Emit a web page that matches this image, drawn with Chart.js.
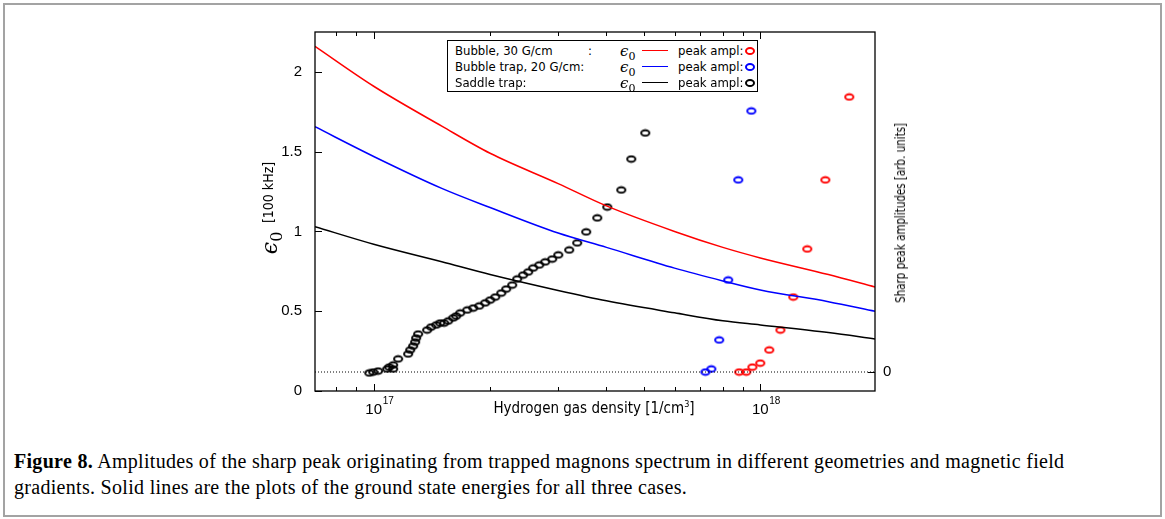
<!DOCTYPE html>
<html>
<head>
<meta charset="utf-8">
<script src="https://cdn.jsdelivr.net/npm/chart.js@4.4.0/dist/chart.umd.min.js"></script>
<style>
body{margin:0;width:1165px;height:519px;overflow:hidden;position:relative;background:#fff;
  font-family:'Liberation Sans Narrow','DejaVu Sans Condensed','Liberation Sans',sans-serif;color:#000}
#frame{position:absolute;left:3px;top:3px;width:1159px;height:514px;border:2px solid #a3a3a3;box-sizing:border-box}
#plot{position:absolute;left:0;top:0}
.rot{position:absolute;transform:rotate(-90deg);text-align:center;white-space:nowrap}
.eps{font-family:'DejaVu Serif','Liberation Serif',serif;font-style:italic}
#legend{position:absolute;left:447px;top:40px;width:311px;height:52px;border:1px solid #000;background:#fff;box-sizing:border-box;font-size:13px}
#legend .row{position:absolute;left:0;height:16px;line-height:16px;width:100%}
#legend span{position:absolute;top:0}
#legend .ln{top:7px;width:26px;height:0;border-top:1.6px solid}
#legend .mk{top:4px;width:6px;height:4px;border:2px solid;border-radius:50%}
#xtitle{position:absolute;left:444px;top:399px;width:300px;text-align:center;font-size:15px}
#caption{position:absolute;left:14px;top:448px;font-family:'Liberation Serif',serif;font-size:20px;letter-spacing:0.3px;line-height:26px;white-space:nowrap}
</style>
</head>
<body>
<div id="frame"></div>
<canvas id="plot" width="1165" height="420"></canvas>

<div class="rot" style="left:168px;top:193px;width:200px;height:30px;line-height:30px">
  <span class="eps" style="font-size:22px">ϵ<sub style="font-size:16px;font-style:normal">0</sub></span>
  <span style="font-size:14px;vertical-align:4px">&nbsp;[100 kHz]</span>
</div>
<div class="rot" style="left:780px;top:203px;width:240px;height:20px;line-height:20px;font-size:14px;transform:rotate(-90deg) scaleX(0.82)">Sharp peak amplitudes [arb. units]</div>
<div id="xtitle">Hydrogen gas density [1/cm<sup style="font-size:9px">3</sup>]</div>

<div id="legend">
  <div class="row" style="top:2px">
    <span style="left:7px">Bubble, 30 G/cm</span><span style="left:140px">:</span>
    <span class="eps" style="left:172px;font-size:15px">ϵ<sub style="font-size:11px;font-style:normal">0</sub></span>
    <span class="ln" style="left:194px;color:#f00"></span>
    <span style="left:230px">peak ampl:</span><span class="mk" style="left:297px;color:#f00"></span>
  </div>
  <div class="row" style="top:18px">
    <span style="left:7px">Bubble trap, 20 G/cm:</span>
    <span class="eps" style="left:172px;font-size:15px">ϵ<sub style="font-size:11px;font-style:normal">0</sub></span>
    <span class="ln" style="left:194px;color:#00f"></span>
    <span style="left:230px">peak ampl:</span><span class="mk" style="left:297px;color:#00f"></span>
  </div>
  <div class="row" style="top:34px">
    <span style="left:7px">Saddle trap:</span>
    <span class="eps" style="left:172px;font-size:15px">ϵ<sub style="font-size:11px;font-style:normal">0</sub></span>
    <span class="ln" style="left:194px;color:#000"></span>
    <span style="left:230px">peak ampl:</span><span class="mk" style="left:297px;color:#000"></span>
  </div>
</div>

<div id="caption"><b>Figure 8.</b> Amplitudes of the sharp peak originating from trapped magnons spectrum in different geometries and magnetic field<br>gradients. Solid lines are the plots of the ground state energies for all three cases.</div>

<script>
// ground state energy eps0 [100 kHz] vs hydrogen density [1/cm3]
const densGrid = [7.05e16, 1e17, 1.5e17, 2e17, 3e17, 4e17, 6e17, 8e17, 1e18, 1.5e18, 1.98e18];
const eps0Bubble30 = [2.16, 1.91, 1.66, 1.49, 1.30, 1.16, 1.00, 0.90, 0.834, 0.73, 0.652];
const eps0Bubble20 = [1.656, 1.47, 1.27, 1.15, 0.99, 0.90, 0.77, 0.69, 0.633, 0.56, 0.50];
const eps0Saddle = [1.03, 0.92, 0.81, 0.73, 0.63, 0.565, 0.49, 0.44, 0.414, 0.366, 0.326];

// sharp peak amplitudes [arb. units], density in units of 1e17 /cm3
const saddleDens = [0.974, 0.997, 1.027, 1.084, 1.097, 1.123, 1.123, 1.157, 1.228, 1.243, 1.265, 1.280,
  1.288, 1.303, 1.375, 1.408, 1.451, 1.486, 1.522, 1.559, 1.606, 1.635, 1.674, 1.746, 1.809, 1.875,
  1.943, 2.002, 2.063, 2.138, 2.202, 2.282, 2.351, 2.436, 2.510, 2.586, 2.681, 2.778, 2.896, 3.002,
  3.204, 3.361, 3.546, 3.787, 4.019, 4.370, 4.638, 5.041];
const saddleAmpl = [-0.006, 0, 0.006, 0.019, 0.031, 0.019, 0.044, 0.082, 0.113, 0.138, 0.163, 0.188,
  0.213, 0.238, 0.263, 0.282, 0.295, 0.307, 0.307, 0.320, 0.339, 0.351, 0.370, 0.389, 0.401, 0.414,
  0.433, 0.451, 0.470, 0.495, 0.520, 0.545, 0.583, 0.608, 0.627, 0.652, 0.671, 0.690, 0.708, 0.734,
  0.765, 0.809, 0.878, 0.966, 1.034, 1.141, 1.335, 1.498];
const bubble20Dens = [7.21, 7.47, 7.83, 8.26, 8.77, 9.48];
const bubble20Ampl = [0, 0.019, 0.201, 0.577, 1.204, 1.636];
const bubble30Dens = [8.82, 9.20, 9.54, 10.0, 10.55, 11.27, 12.17, 13.23, 14.73, 16.99];
const bubble30Ampl = [0, 0, 0.031, 0.056, 0.138, 0.263, 0.470, 0.771, 1.204, 1.724];

// axes
const xMin = 7.05e16, xMax = 1.98e18;
const xDecades = [17, 18];
const yTicks = [0, 0.5, 1, 1.5, 2];
const yMax = 2.25;
const y2Ticks = [0];
const y2Offset = 0.119; // where amplitude 0 sits on the eps0 axis

function xy(xs, ys, scale) {
  return xs.map((v, i) => ({x: v * scale, y: ys[i]}));
}

function ellipseMarker(color) {
  const c = document.createElement('canvas');
  c.width = 12; c.height = 9;
  const g = c.getContext('2d');
  g.strokeStyle = color;
  g.lineWidth = 1.9;
  g.beginPath();
  g.ellipse(6, 4.5, 4.1, 2.7, 0, 0, Math.PI * 2);
  g.stroke();
  return c;
}

function curve(ys, color) {
  return {
    type: 'line', data: xy(densGrid, ys, 1), yAxisID: 'y',
    borderColor: color, borderWidth: 1.5, pointRadius: 0, fill: false,
    cubicInterpolationMode: 'monotone'
  };
}

function peaks(xs, ys, color) {
  return {
    type: 'scatter', data: xy(xs, ys, 1e17), yAxisID: 'y2',
    pointStyle: ellipseMarker(color), pointRadius: 5, showLine: false
  };
}

const boxTicks = {
  id: 'boxTicks',
  afterDatasetsDraw(chart) {
    const {ctx, chartArea: a, scales} = chart;
    const x = scales.x, y = scales.y, y2 = scales.y2;
    ctx.save();
    ctx.strokeStyle = '#000';
    ctx.lineWidth = 1.3;
    ctx.strokeRect(a.left, a.top, a.right - a.left, a.bottom - a.top);
    ctx.lineWidth = 1;
    ctx.beginPath();
    for (let d = 16; d <= 18; d++) {
      for (let m = 1; m <= 9; m++) {
        const v = m * Math.pow(10, d);
        if (v < x.min || v > x.max) continue;
        const px = Math.round(x.getPixelForValue(v)) + 0.5;
        const len = m === 1 ? 7 : 4;
        ctx.moveTo(px, a.bottom); ctx.lineTo(px, a.bottom - len);
        ctx.moveTo(px, a.top); ctx.lineTo(px, a.top + len);
      }
    }
    yTicks.forEach(v => {
      const py = Math.round(y.getPixelForValue(v)) + 0.5;
      ctx.moveTo(a.left, py); ctx.lineTo(a.left + 7, py);
    });
    y2Ticks.forEach(v => {
      const py = Math.round(y2.getPixelForValue(v)) + 0.5;
      ctx.moveTo(a.right, py); ctx.lineTo(a.right - 7, py);
    });
    ctx.stroke();

    ctx.fillStyle = '#000';
    ctx.textBaseline = 'alphabetic';
    xDecades.forEach(e => {
      const px = x.getPixelForValue(Math.pow(10, e));
      ctx.font = '15px "Liberation Sans"';
      ctx.textAlign = 'center';
      ctx.fillText('10', px, a.bottom + 23);
      ctx.font = '10px "Liberation Sans"';
      ctx.textAlign = 'left';
      ctx.fillText(String(e), px + 9, a.bottom + 13);
    });
    ctx.restore();
  }
};

const ctx = document.getElementById('plot').getContext('2d');
new Chart(ctx, {
  data: {
    datasets: [
      {
        type: 'line', data: [{x: xMin, y: 0}, {x: xMax, y: 0}], yAxisID: 'y2',
        borderColor: '#000', borderWidth: 1, borderDash: [1, 2], pointRadius: 0
      },
      curve(eps0Bubble30, '#ff0000'),
      curve(eps0Bubble20, '#0000ff'),
      curve(eps0Saddle, '#000000'),
      peaks(saddleDens, saddleAmpl, '#000000'),
      peaks(bubble20Dens, bubble20Ampl, '#0000ff'),
      peaks(bubble30Dens, bubble30Ampl, '#ff0000')
    ]
  },
  options: {
    responsive: false,
    animation: false,
    devicePixelRatio: 1,
    layout: {padding: {top: 32, left: 0, right: 0, bottom: 0}},
    plugins: {legend: {display: false}, tooltip: {enabled: false}},
    scales: {
      x: {
        type: 'logarithmic', min: xMin, max: xMax, position: 'bottom',
        grid: {display: false, drawTicks: false},
        border: {display: false},
        ticks: {display: false},
        afterFit(s) { s.height = 29; }
      },
      y: {
        type: 'linear', position: 'left', min: 0, max: yMax,
        grid: {display: false, drawTicks: false},
        border: {display: false},
        afterBuildTicks(s) { s.ticks = yTicks.map(v => ({value: v})); },
        ticks: {
          padding: 13, color: '#000',
          font: {family: 'Liberation Sans', size: 15},
          callback: v => String(v)
        },
        afterFit(s) { s.width = 315; }
      },
      y2: {
        type: 'linear', position: 'right', min: -y2Offset, max: yMax - y2Offset,
        grid: {display: false, drawTicks: false},
        border: {display: false},
        afterBuildTicks(s) { s.ticks = y2Ticks.map(v => ({value: v})); },
        ticks: {
          padding: 8, color: '#000',
          font: {family: 'Liberation Sans', size: 15},
          callback: v => String(v)
        },
        afterFit(s) { s.width = 290; }
      }
    }
  },
  plugins: [boxTicks]
});
</script>
</body>
</html>
